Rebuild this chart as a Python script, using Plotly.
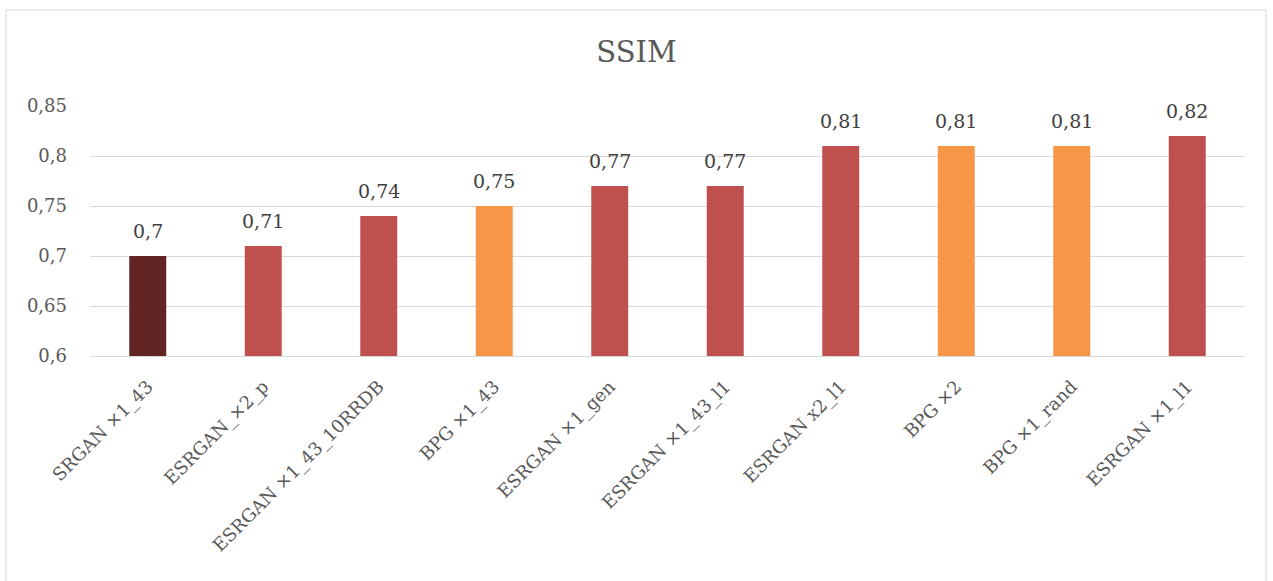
import plotly.graph_objects as go

# SSIM scores per model
models = [
    "SRGAN ×1_43", "ESRGAN_×2_p", "ESRGAN ×1_43_10RRDB", "BPG ×1_43",
    "ESRGAN ×1_gen", "ESRGAN ×1_43_l1", "ESRGAN x2_l1", "BPG ×2",
    "BPG ×1_rand", "ESRGAN ×1_l1",
]
ssim = [0.70, 0.71, 0.74, 0.75, 0.77, 0.77, 0.81, 0.81, 0.81, 0.82]
groups = ["srgan", "esrgan", "esrgan", "bpg", "esrgan", "esrgan", "esrgan", "bpg", "bpg", "esrgan"]

palette = {"srgan": "#632523", "esrgan": "#C0504D", "bpg": "#F79646"}
bar_colors = [palette[g] for g in groups]
labels = [f"{v:g}".replace(".", ",") for v in ssim]

font_family = "DejaVu Serif"

fig = go.Figure(
    go.Bar(
        x=models,
        y=ssim,
        marker=dict(color=bar_colors, line=dict(width=0)),
        width=0.32,
        hoverinfo="skip",
    )
)

# value labels above each bar
for m, v, t in zip(models, ssim, labels):
    fig.add_annotation(
        x=m, y=v, text=t, showarrow=False,
        yanchor="bottom", yshift=12,
        font=dict(family=font_family, size=19, color="#404040"),
    )

fig.update_layout(
    width=1273,
    height=581,
    margin=dict(l=90, r=28, t=106, b=225),
    paper_bgcolor="white",
    plot_bgcolor="white",
    separators=", ",
    showlegend=False,
    title=dict(
        text="SSIM",
        x=0.5,
        xanchor="center",
        y=1 - 52 / 581,
        yanchor="middle",
        font=dict(family=font_family, size=29, color="#595959"),
    ),
    font=dict(family=font_family, color="#595959"),
    xaxis=dict(
        tickangle=-45,
        tickfont=dict(family=font_family, size=18, color="#595959"),
        showgrid=False,
        showline=True,
        linecolor="#d9d9d9",
        linewidth=1,
        ticks="",
        ticklabelstandoff=12,
    ),
    yaxis=dict(
        range=[0.6, 0.85],
        dtick=0.05,
        tick0=0.6,
        showgrid=True,
        gridcolor="#d9d9d9",
        gridwidth=1,
        zeroline=False,
        showline=False,
        ticks="",
        ticklabelstandoff=22,
        tickfont=dict(family=font_family, size=18, color="#595959"),
    ),
    shapes=[
        dict(
            type="rect",
            xref="paper",
            yref="paper",
            x0=(6 - 90) / 1155,
            x1=(1266 - 90) / 1155,
            y0=-1.0,
            y1=(356 - 10) / 250,
            line=dict(color="#d9d9d9", width=1),
            fillcolor="rgba(0,0,0,0)",
            layer="below",
        )
    ],
)

fig.write_html("out.html")
